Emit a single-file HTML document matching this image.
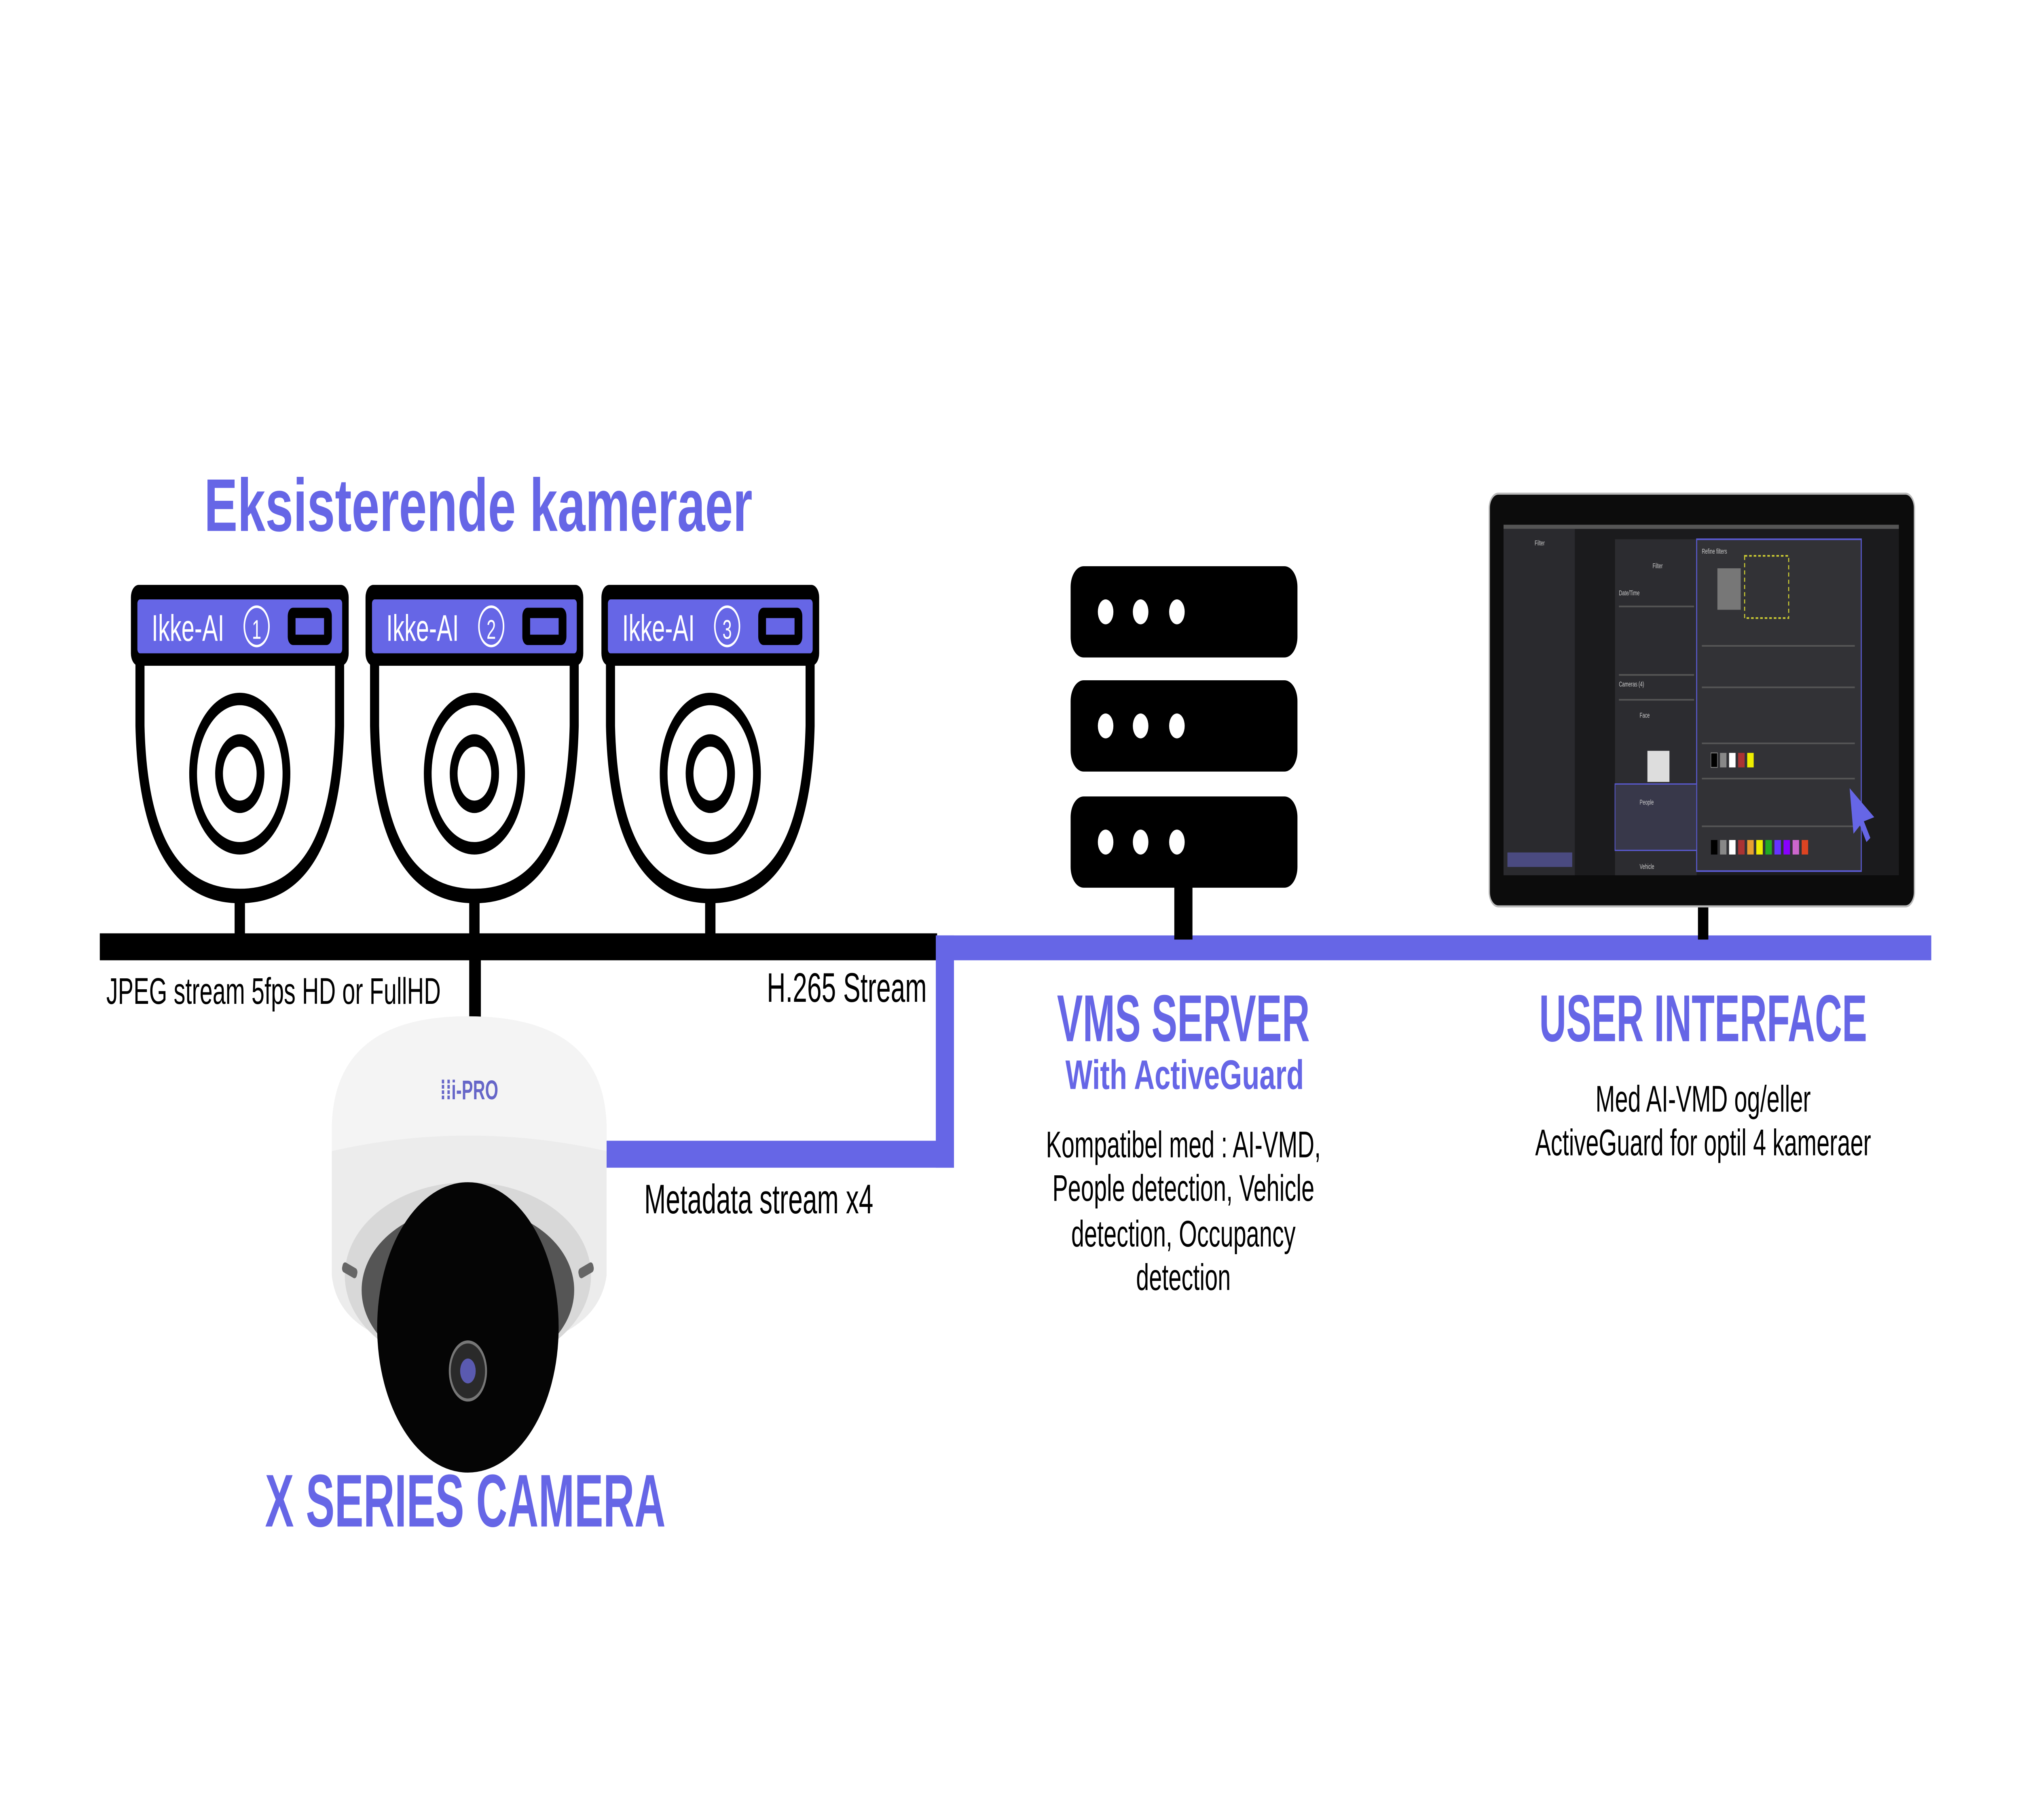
<!DOCTYPE html>
<html><head><meta charset="utf-8"><style>
html,body{margin:0;padding:0;background:#fff;overflow:hidden;width:100%;height:100%;}
svg{display:block;width:100vw;height:100vh;}
text{font-family:"Liberation Sans",sans-serif;}
</style></head><body>
<svg viewBox="0 0 1560 877.5" preserveAspectRatio="none" xmlns="http://www.w3.org/2000/svg">
<rect width="1560" height="877.5" fill="#fff"/>
<defs>
<g id="cam">
  <path d="M-77,318 L-77,350 Q-74,432 0,432 Q74,432 77,350 L77,318" fill="#fff" stroke="#000" stroke-width="7"/>
  <ellipse cx="0" cy="373" rx="36" ry="36" fill="none" stroke="#000" stroke-width="6"/>
  <ellipse cx="0" cy="373" rx="16" ry="16" fill="none" stroke="#000" stroke-width="6"/>
  <rect x="-4" y="432" width="8" height="22" fill="#000"/>
  <rect x="-84" y="282" width="168" height="39" rx="6" fill="#000"/>
  <rect x="-79" y="289" width="158" height="26" rx="2" fill="#6666e6"/>
  <rect x="37" y="293" width="34" height="18" rx="4" fill="#000"/>
  <rect x="43" y="298" width="22" height="8" fill="#6666e6"/>
  <circle cx="13" cy="302" r="9.5" fill="none" stroke="#fff" stroke-width="1.2"/>
</g>
</defs>
<text x="369" y="256" text-anchor="middle" font-size="36" font-weight="bold" fill="#6666e6" textLength="423" lengthAdjust="spacingAndGlyphs">Eksisterende kameraer</text>

<rect x="77" y="450" width="646" height="13" fill="#000"/>
<rect x="362" y="460" width="9" height="32" fill="#000"/>

<use href="#cam" x="185" y="0"/>
<use href="#cam" x="366" y="0"/>
<use href="#cam" x="548" y="0"/>
<g fill="#fff" font-size="18">
<text x="117" y="309">Ikke-AI</text><text x="198" y="308" font-size="13" text-anchor="middle">1</text>
<text x="298" y="309">Ikke-AI</text><text x="379" y="308" font-size="13" text-anchor="middle">2</text>
<text x="480" y="309">Ikke-AI</text><text x="561" y="308" font-size="13" text-anchor="middle">3</text>
</g>

<rect x="722" y="451" width="768" height="12" fill="#6666e6"/>
<rect x="722" y="451" width="14" height="112" fill="#6666e6"/>
<rect x="466" y="550" width="270" height="13" fill="#6666e6"/>

<text x="82" y="484" font-size="18" fill="#000">JPEG stream 5fps HD or FullHD</text>
<text x="715" y="483" font-size="20" fill="#000" text-anchor="end">H.265 Stream</text>
<text x="497" y="585" font-size="20" fill="#000">Metadata stream x4</text>

<path d="M256,545 Q256,490 361,490 Q468,490 468,545 L468,615 Q460,650 361,652 Q262,650 256,615 Z" fill="#ececec"/>
<path d="M256,545 Q256,490 361,490 Q468,490 468,545 L468,555 Q361,540 256,555 Z" fill="#f4f4f4"/>
<ellipse cx="361" cy="615" rx="95" ry="45" fill="#d8d8d8"/>
<ellipse cx="361" cy="622" rx="82" ry="40" fill="#555"/>
<circle cx="361" cy="640" r="70" fill="#050505"/>
<circle cx="361" cy="661" r="14" fill="#2a2a2a" stroke="#777" stroke-width="1.5"/>
<circle cx="361" cy="661" r="6" fill="#5a5ab0"/>
<rect x="264" y="610" width="12" height="5" rx="2" fill="#666" transform="rotate(20 270 612)"/>
<rect x="446" y="610" width="12" height="5" rx="2" fill="#666" transform="rotate(-20 452 612)"/>
<text x="362" y="530" font-size="13" font-weight="bold" fill="#6666c8" text-anchor="middle">⁞⁞i-PRO</text>
<text x="359" y="736" text-anchor="middle" font-size="36" font-weight="bold" fill="#6666e6" textLength="309" lengthAdjust="spacingAndGlyphs">X SERIES CAMERA</text>

<g fill="#000">
<rect x="826" y="273" width="175" height="44" rx="10"/>
<rect x="826" y="328" width="175" height="44" rx="10"/>
<rect x="826" y="384" width="175" height="44" rx="10"/>
<rect x="906" y="426" width="14" height="27"/>
</g>
<g fill="#fff">
<circle cx="853" cy="295" r="6"/><circle cx="880" cy="295" r="6"/><circle cx="908" cy="295" r="6"/>
<circle cx="853" cy="350" r="6"/><circle cx="880" cy="350" r="6"/><circle cx="908" cy="350" r="6"/>
<circle cx="853" cy="406" r="6"/><circle cx="880" cy="406" r="6"/><circle cx="908" cy="406" r="6"/>
</g>
<text x="913" y="502" text-anchor="middle" font-size="32" font-weight="bold" fill="#6666e6" textLength="195" lengthAdjust="spacingAndGlyphs">VMS SERVER</text>
<text x="914" y="525" text-anchor="middle" font-size="20" font-weight="bold" fill="#6666e6" textLength="184" lengthAdjust="spacingAndGlyphs">With  ActiveGuard</text>
<g font-size="18" fill="#000" text-anchor="middle">
<text x="913" y="558">Kompatibel med : AI-VMD,</text>
<text x="913" y="579">People detection, Vehicle</text>
<text x="913" y="601">detection, Occupancy</text>
<text x="913" y="622">detection</text>
</g>

<rect x="1310" y="430" width="8" height="23" fill="#000"/>
<rect x="1149" y="238" width="328" height="199" rx="7" fill="#0c0c0c" stroke="#bbb" stroke-width="1"/>
<rect x="1160" y="253" width="305" height="169" fill="#1b1b1d"/>
<rect x="1160" y="253" width="305" height="2" fill="#555"/>
<rect x="1160" y="255" width="55" height="167" fill="#2a2a2e"/>
<rect x="1246" y="260" width="63" height="162" fill="#2c2c30"/>
<rect x="1309" y="260" width="127" height="160" fill="#323236" stroke="#5a5ad0" stroke-width="0.8"/>
<rect x="1246" y="378" width="63" height="32" fill="#38384a" stroke="#5a5ad0" stroke-width="0.6"/>
<rect x="1346" y="268" width="34" height="30" fill="none" stroke="#cc3" stroke-width="0.8" stroke-dasharray="2 1.5"/>
<rect x="1325" y="274" width="18" height="20" fill="#777"/>
<rect x="1271" y="362" width="17" height="15" fill="#ddd"/>
<rect x="1163" y="411" width="50" height="7" fill="#4a4a80"/>
<g fill="#555">
<rect x="1313" y="311" width="118" height="0.8"/><rect x="1313" y="331" width="118" height="0.8"/>
<rect x="1313" y="358" width="118" height="0.8"/><rect x="1313" y="375" width="118" height="0.8"/>
<rect x="1313" y="398" width="118" height="0.8"/>
<rect x="1249" y="292" width="58" height="0.8"/><rect x="1249" y="325" width="58" height="0.8"/>
<rect x="1249" y="337" width="58" height="0.8"/>
</g>
<g>
<rect x="1320" y="405" width="5" height="7" fill="#000"/><rect x="1327" y="405" width="5" height="7" fill="#888"/>
<rect x="1334" y="405" width="5" height="7" fill="#fff"/><rect x="1341" y="405" width="5" height="7" fill="#a33"/>
<rect x="1348" y="405" width="5" height="7" fill="#e8a030"/><rect x="1355" y="405" width="5" height="7" fill="#ee0"/>
<rect x="1362" y="405" width="5" height="7" fill="#2a2"/><rect x="1369" y="405" width="5" height="7" fill="#63f"/>
<rect x="1376" y="405" width="5" height="7" fill="#80f"/><rect x="1383" y="405" width="5" height="7" fill="#c6c"/>
<rect x="1390" y="405" width="5" height="7" fill="#d42"/>
<rect x="1320" y="363" width="5" height="7" fill="#000" stroke="#888" stroke-width="0.4"/><rect x="1327" y="363" width="5" height="7" fill="#888"/>
<rect x="1334" y="363" width="5" height="7" fill="#fff"/><rect x="1341" y="363" width="5" height="7" fill="#a33"/>
<rect x="1348" y="363" width="5" height="7" fill="#ee0"/>
</g>
<g font-size="3.5" fill="#ccc">
<text x="1184" y="263">Filter</text><text x="1275" y="274">Filter</text><text x="1313" y="267">Refine filters</text>
<text x="1249" y="287">Date/Time</text><text x="1249" y="331">Cameras (4)</text><text x="1265" y="346">Face</text>
<text x="1265" y="388">People</text><text x="1265" y="419">Vehicle</text>
</g>
<path d="M1427,380 L1446,394 L1438,396 L1443,404 L1440,406 L1435,398 L1430,402 Z" fill="#6666e6"/>

<text x="1314" y="502" text-anchor="middle" font-size="32" font-weight="bold" fill="#6666e6" textLength="253" lengthAdjust="spacingAndGlyphs">USER INTERFACE</text>
<g font-size="18" fill="#000" text-anchor="middle">
<text x="1314" y="536">Med AI-VMD og/eller</text>
<text x="1314" y="557">ActiveGuard for optil 4 kameraer</text>
</g>
</svg>
</body></html>
